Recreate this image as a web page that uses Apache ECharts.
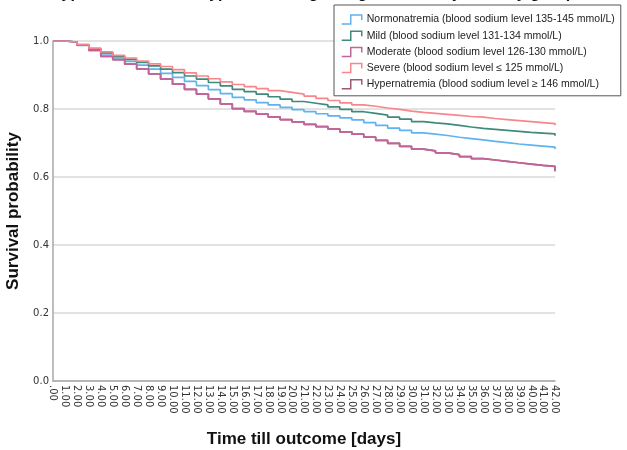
<!DOCTYPE html>
<html>
<head>
<meta charset="utf-8">
<script src="https://cdn.jsdelivr.net/npm/echarts@6/dist/echarts.min.js"></script>
<style>
  html, body { margin: 0; padding: 0; background: #fff; }
  #chart { width: 627px; height: 450px; }
</style>
</head>
<body>
<div id="chart"></div>
<script>
// Follow-up days (0 .. 42)
const days = [0, 1, 2, 3, 4, 5, 6, 7, 8, 9, 10, 11, 12, 13, 14, 15, 16, 17, 18, 19, 20,
  21, 22, 23, 24, 25, 26, 27, 28, 29, 30, 31, 32, 33, 34, 35, 36, 37, 38, 39, 40, 41, 42];

// Kaplan-Meier survival estimates per sodium group, one value per day
const normonatremia = [1.000, 0.997, 0.987, 0.975, 0.962, 0.950, 0.940, 0.929, 0.917, 0.905, 0.893,
  0.881, 0.869, 0.857, 0.845, 0.834, 0.827, 0.819, 0.812, 0.805, 0.798, 0.792, 0.786, 0.780, 0.774,
  0.768, 0.760, 0.752, 0.744, 0.737, 0.730, 0.726, 0.722, 0.717, 0.713, 0.709, 0.705, 0.701, 0.697,
  0.694, 0.691, 0.688, 0.682];
const mild = [1.000, 0.997, 0.989, 0.977, 0.966, 0.955, 0.946, 0.937, 0.927, 0.917, 0.907,
  0.897, 0.888, 0.878, 0.868, 0.858, 0.851, 0.844, 0.836, 0.829, 0.822, 0.817, 0.812, 0.806, 0.799,
  0.792, 0.787, 0.782, 0.776, 0.770, 0.763, 0.759, 0.756, 0.752, 0.747, 0.743, 0.740, 0.737, 0.734,
  0.731, 0.729, 0.727, 0.721];
const moderate = [1.000, 0.997, 0.988, 0.972, 0.955, 0.945, 0.932, 0.918, 0.903, 0.888, 0.873,
  0.858, 0.844, 0.830, 0.815, 0.801, 0.793, 0.785, 0.777, 0.769, 0.762, 0.755, 0.748, 0.741, 0.733,
  0.726, 0.717, 0.708, 0.699, 0.690, 0.682, 0.677, 0.671, 0.666, 0.660, 0.654, 0.650, 0.646, 0.642,
  0.638, 0.634, 0.631, 0.617];
const severe = [1.000, 0.997, 0.990, 0.979, 0.968, 0.958, 0.950, 0.941, 0.933, 0.925, 0.916,
  0.906, 0.897, 0.889, 0.880, 0.872, 0.866, 0.860, 0.854, 0.849, 0.844, 0.838, 0.831, 0.825, 0.818,
  0.812, 0.808, 0.803, 0.799, 0.794, 0.790, 0.787, 0.784, 0.781, 0.778, 0.776, 0.772, 0.769, 0.766,
  0.763, 0.760, 0.757, 0.752];
const hypernatremia = [1.000, 0.997, 0.988, 0.972, 0.955, 0.945, 0.932, 0.918, 0.903, 0.888, 0.873,
  0.858, 0.844, 0.830, 0.815, 0.801, 0.793, 0.785, 0.777, 0.769, 0.762, 0.755, 0.748, 0.741, 0.733,
  0.726, 0.717, 0.708, 0.699, 0.690, 0.682, 0.677, 0.671, 0.666, 0.660, 0.654, 0.650, 0.646, 0.642,
  0.638, 0.634, 0.631, 0.617];

const yTicks = [0, 0.2, 0.4, 0.6, 0.8, 1.0];

const groups = [
  { name: 'Normonatremia (blood sodium level 135-145 mmol/L)', values: normonatremia, color: '#5fb3ee', z: 3 },
  { name: 'Mild (blood sodium level 131-134 mmol/L)', values: mild, color: '#3f8a7a', z: 3 },
  { name: 'Moderate (blood sodium level 126-130 mmol/L)', values: moderate, color: '#c2639a', z: 3 },
  { name: 'Severe (blood sodium level \u2264 125 mmol/L)', values: severe, color: '#f7878d', z: 3 },
  { name: 'Hypernatremia (blood sodium level \u2265 146 mmol/L)', values: hypernatremia, color: '#9e5a6c', z: 2 }
];

const stepIcon = 'path://M0,10 L9,10 L9,1 L20,1 L20,6';

const chart = echarts.init(document.getElementById('chart'), null, { renderer: 'canvas' });

chart.setOption({
  animation: false,
  backgroundColor: '#ffffff',
  graphic: [
    {
      type: 'text', left: 50, top: -14,
      style: {
        text: 'Hypernatremia and hyponatremia grading: survival by severity group',
        font: 'bold 16px "Liberation Sans", Arial, sans-serif', fill: '#111'
      }
    }
  ],
  grid: { left: 53, right: 72, top: 41, bottom: 69, containLabel: false, outerBoundsMode: 'none' },
  legend: {
    orient: 'vertical',
    left: 334, top: 5,
    padding: [9, 6, 6, 7],
    itemWidth: 20, itemHeight: 10, itemGap: 5.2,
    icon: stepIcon,
    borderColor: '#555', borderWidth: 1, backgroundColor: '#fff',
    textStyle: { fontFamily: '"Liberation Sans", Arial, sans-serif', fontSize: 10.5, color: '#222' },
    data: groups.map(g => ({
      name: g.name,
      itemStyle: { color: 'rgba(0,0,0,0)', borderColor: g.color, borderWidth: 1.5 }
    }))
  },
  xAxis: {
    type: 'value', min: 0, max: 42, interval: 1,
    name: 'Time till outcome [days]', nameLocation: 'middle', nameGap: 50,
    nameTextStyle: { fontFamily: '"Liberation Sans", Arial, sans-serif', fontSize: 17, fontWeight: 'bold', color: '#111' },
    axisLine: { show: true, lineStyle: { color: '#a8a8a8', width: 1.5 } },
    axisTick: { show: false },
    splitLine: { show: false },
    axisLabel: {
      rotate: -90, margin: 4,
      fontFamily: '"DejaVu Sans", sans-serif', fontSize: 10, color: '#333',
      formatter: v => (v === 0 ? '.00' : v.toFixed(2))
    }
  },
  yAxis: {
    type: 'value', min: 0, max: 1, interval: 0.2,
    name: 'Survival probability', nameLocation: 'middle', nameGap: 27,
    nameTextStyle: { fontFamily: '"Liberation Sans", Arial, sans-serif', fontSize: 17, fontWeight: 'bold', color: '#111' },
    axisLine: { show: true, lineStyle: { color: '#a8a8a8', width: 1.5 } },
    axisTick: { show: false },
    splitLine: { show: true, lineStyle: { color: '#d9d9d9', width: 1.5 } },
    axisLabel: {
      margin: 4,
      fontFamily: '"DejaVu Sans", sans-serif', fontSize: 10, color: '#333',
      formatter: v => (yTicks.includes(Math.round(v * 10) / 10) ? v.toFixed(1) : '')
    }
  },
  series: groups.map(g => ({
    name: g.name,
    type: 'line',
    step: 'end',
    z: g.z,
    showSymbol: false,
    symbol: 'none',
    color: g.color,
    lineStyle: { color: g.color, width: 1.7 },
    data: days.map((d, i) => [d, g.values[i]])
  }))
});
</script>
</body>
</html>
